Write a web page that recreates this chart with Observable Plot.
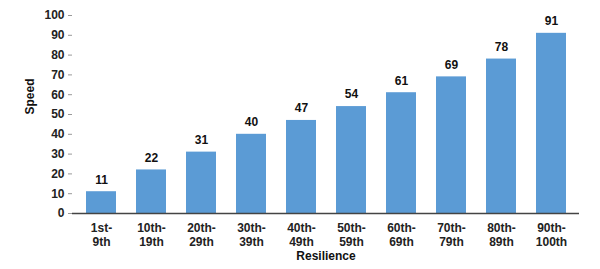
<!DOCTYPE html>
<html><head><meta charset="utf-8">
<script src="https://cdn.jsdelivr.net/npm/d3@7"></script>
<script src="https://cdn.jsdelivr.net/npm/@observablehq/plot@0.6"></script>
<style>
body{margin:0;background:#fff;}
svg{font-family:Arial,"Liberation Sans",sans-serif;}
</style></head><body>
<div id="chart"></div>
<script>
const categories = ["1st-\n9th","10th-\n19th","20th-\n29th","30th-\n39th","40th-\n49th","50th-\n59th","60th-\n69th","70th-\n79th","80th-\n89th","90th-\n100th"];
const values = [11,22,31,40,47,54,61,69,78,91];
const yTicks = [0,10,20,30,40,50,60,70,80,90,100];
const data = categories.map((c,i)=>({cat:c, v:values[i]}));

const chart = Plot.plot({
  width: 600, height: 269,
  marginLeft: 72, marginRight: 21, marginTop: 15, marginBottom: 56,
  style: {fontFamily: "Arial, 'Liberation Sans', sans-serif", fontSize: "12px", fontWeight: "bold", color: "#222"},
  x: {domain: categories, paddingInner: 0.41, paddingOuter: 0.2, label: null},
  y: {domain: [0,100], ticks: yTicks, label: null},
  marks: [
    Plot.barY(data, {x: "cat", y: "v", fill: "#5B9BD5"}),
    Plot.text(data, {x: "cat", y: "v", text: d => String(d.v), dy: -12, fontSize: 12, fontWeight: "bold", fill: "#111"}),
    Plot.axisY({ticks: yTicks, tickSize: 4, tickPadding: 4, fontSize: 12, fontWeight: "bold", label: null, stroke: "#999"}),
    Plot.ruleX([0], {frameAnchor: "left", stroke: "#bbb"}),
    Plot.axisX({tickSize: 0, tickPadding: 9, fontSize: 12, fontWeight: "bold", label: null, lineHeight: 1.15}),
    Plot.ruleY([0], {stroke: "#444", strokeWidth: 1.5}),
    Plot.text(["Resilience"], {frameAnchor: "bottom", dy: 46, fontSize: 12, fontWeight: "bold", fill: "#111"}),
    Plot.text(["Speed"], {frameAnchor: "left", dx: -42, rotate: -90, fontSize: 12, fontWeight: "bold", fill: "#111"})
  ]
});
document.getElementById("chart").appendChild(chart);
</script>
</body></html>
